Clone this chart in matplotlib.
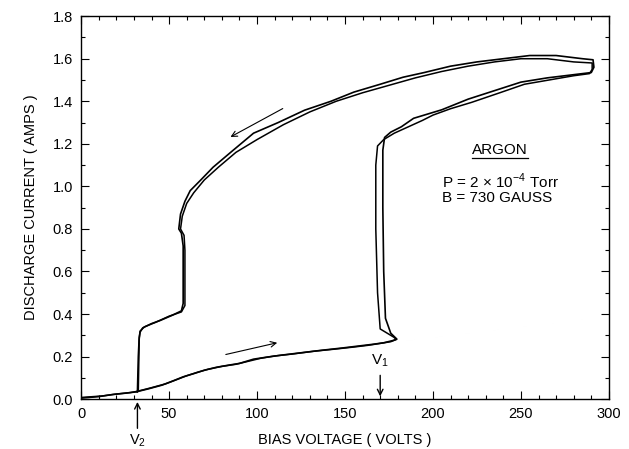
import matplotlib
matplotlib.use('Agg')
import matplotlib.pyplot as plt
from matplotlib.ticker import MultipleLocator, FormatStrFormatter

plt.rcParams['font.family'] = ['Liberation Sans', 'DejaVu Sans']

# first sweep: up in voltage, jump at V1, back down, drop at V2
volts_a = [0, 10, 18, 25, 31, 38, 46, 52, 58, 64, 70, 77, 84, 90, 98, 106, 114, 125, 137, 148, 158, 166, 172, 177, 179.5,
           176, 173, 172, 171.5, 171.5, 172.5, 176, 182, 189, 197, 205, 220, 235, 250, 265, 280, 290, 291.5, 291,
           285, 270, 255, 240, 225, 210, 195, 183, 170, 155, 142, 127, 112, 98, 85, 75, 68, 62, 59, 56.5, 55.5, 57, 58, 58,
           57, 52, 45, 40, 35, 33.5, 33, 32.5, 32]
amps_a = [0.005, 0.012, 0.022, 0.028, 0.034, 0.048, 0.066, 0.085, 0.105, 0.12, 0.136, 0.15, 0.16, 0.168, 0.188, 0.198, 0.207, 0.218, 0.23, 0.24, 0.25, 0.258, 0.265, 0.275, 0.282,
          0.31, 0.38, 0.6, 0.9, 1.17, 1.23, 1.255, 1.28, 1.32, 1.34, 1.36, 1.41, 1.45, 1.49, 1.51, 1.525, 1.535, 1.56, 1.595,
          1.60, 1.615, 1.615, 1.60, 1.585, 1.565, 1.535, 1.513, 1.48, 1.443, 1.40, 1.358, 1.30, 1.25, 1.16, 1.09, 1.03, 0.98, 0.93, 0.87, 0.80, 0.78, 0.72, 0.45,
          0.415, 0.395, 0.37, 0.355, 0.335, 0.315, 0.29, 0.2, 0.035]

# second sweep (slightly different trace)
volts_b = [0, 12, 20, 28, 32, 40, 48, 55, 60, 66, 72, 80, 88, 95, 102, 110, 120, 132, 144, 155, 163, 170, 176, 179,
           178, 170, 168.5, 167.5, 167.5, 168.5, 172, 178, 186, 194, 200, 210, 222, 238, 252, 266, 280, 289, 290.5, 290.5,
           280, 265, 250, 235, 220, 205, 190, 175, 160, 145, 130, 115, 100, 88, 78, 70, 64, 60, 57.5, 56.5, 58.5, 59, 59,
           57, 50, 42, 36, 33.5, 33, 32.5]
amps_b = [0.008, 0.015, 0.024, 0.031, 0.037, 0.054, 0.072, 0.094, 0.11, 0.126, 0.14, 0.154, 0.164, 0.178, 0.192, 0.203, 0.212, 0.225, 0.235, 0.245, 0.253, 0.262, 0.27, 0.28,
          0.29, 0.33, 0.5, 0.8, 1.1, 1.19, 1.22, 1.25, 1.28, 1.31, 1.335, 1.365, 1.395, 1.44, 1.48, 1.50, 1.52, 1.53, 1.55, 1.58,
          1.585, 1.60, 1.60, 1.585, 1.565, 1.54, 1.51, 1.475, 1.44, 1.40, 1.35, 1.29, 1.22, 1.16, 1.09, 1.03, 0.97, 0.92, 0.86, 0.80, 0.77, 0.70, 0.44,
          0.41, 0.39, 0.36, 0.34, 0.32, 0.28, 0.04]

v1 = 170
v2 = 32

fig = plt.figure(figsize=(6.29, 4.49), dpi=100)
ax = fig.add_axes([0.129, 0.111, 0.839, 0.853])

ax.plot(volts_a, amps_a, color='black', lw=1.2)
ax.plot(volts_b, amps_b, color='black', lw=1.1)

ax.set_xlim(0, 300)
ax.set_ylim(0, 1.8)
ax.xaxis.set_major_locator(MultipleLocator(50))
ax.xaxis.set_minor_locator(MultipleLocator(10))
ax.yaxis.set_major_locator(MultipleLocator(0.2))
ax.yaxis.set_minor_locator(MultipleLocator(0.1))
ax.yaxis.set_major_formatter(FormatStrFormatter('%.1f'))
ax.tick_params(which='both', direction='in', top=True, right=True, labelsize=10.5, width=0.8)
ax.tick_params(which='major', length=6, pad=6)
ax.tick_params(which='minor', length=3)
for s in ax.spines.values():
    s.set_linewidth(1.0)

ax.set_xlabel('BIAS VOLTAGE ( VOLTS )', fontsize=10.5, labelpad=8)
ax.set_ylabel('DISCHARGE CURRENT ( AMPS )', fontsize=10.5, labelpad=10)

# sweep direction arrows
ax.annotate('', xy=(113, 0.268), xytext=(80.7, 0.207),
            arrowprops=dict(arrowstyle='->', color='black', lw=0.8))
ax.annotate('', xy=(83.5, 1.226), xytext=(116, 1.372),
            arrowprops=dict(arrowstyle='->', color='black', lw=0.8))

# V1 / V2 markers
ax.annotate('', xy=(v1, 0.0), xytext=(v1, 0.125),
            arrowprops=dict(arrowstyle='->', color='black', lw=1.0))
ax.text(v1, 0.14, '$\\mathregular{V_1}$', ha='center', va='bottom', fontsize=11)
ax.annotate('', xy=(v2, 0.0), xytext=(v2, -0.15),
            arrowprops=dict(arrowstyle='->', color='black', lw=1.0), annotation_clip=False)
ax.text(v2, -0.195, '$\\mathregular{V_2}$', ha='center', va='center', fontsize=10.5, clip_on=False)

ax.text(238, 1.17, 'ARGON', ha='center', va='center', fontsize=11)
ax.plot([222, 254], [1.135, 1.135], color='black', lw=0.9)
ax.text(205, 1.025, 'P = 2 \u00d7 10$^{\\mathregular{-4}}$ Torr', ha='left', va='center', fontsize=11)
ax.text(205, 0.945, 'B = 730 GAUSS', ha='left', va='center', fontsize=11)

plt.savefig('out.png', dpi=100)
